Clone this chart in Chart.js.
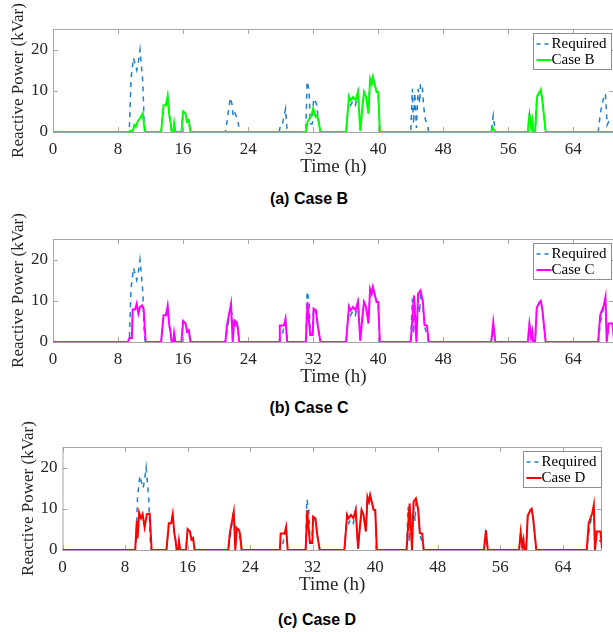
<!DOCTYPE html>
<html>
<head>
<meta charset="utf-8">
<script src="https://cdn.jsdelivr.net/npm/chart.js@4.4.1/dist/chart.umd.min.js"></script>
<style>
  body { margin: 0; background: #fff; width: 613px; height: 632px; overflow: hidden; position: relative; }
  .panel { position: absolute; left: 0; height: 180px; }
  .cap { position: absolute; width: 200px; text-align: center; font: bold 16px "Liberation Sans", Arial, sans-serif; color: #000; }
</style>
</head>
<body>
<div class="panel" style="top:0;width:614px"><canvas id="chartB"></canvas></div>
<div class="cap" style="left:209px;top:190px">(a) Case B</div>
<div class="panel" style="top:210px;width:614px"><canvas id="chartC"></canvas></div>
<div class="cap" style="left:209px;top:399px">(b) Case C</div>
<div class="panel" style="top:418px;width:602px"><canvas id="chartD"></canvas></div>
<div class="cap" style="left:217px;top:611px">(c) Case D</div>
<script>
// [hour, kVar] points
const required = [[0,0],[9.2,0],[9.4,1],[9.6,13],[9.9,18],[10.1,16.5],[10.3,15],[10.5,17],[10.7,20],[10.9,15.5],[11.05,12],[11.2,3],[11.35,0],
  [13.3,0],[13.6,6.5],[13.9,6.5],[14.1,8.7],[14.3,4.1],[14.45,2.5],[14.6,0],[14.8,0],[14.9,2.1],[15.05,0],[15.8,0],[16.0,5],[16.3,4.5],[16.5,2.5],[16.7,2.9],[16.9,0],
  [21.2,0],[21.4,2.5],[21.6,5.3],[21.8,8.3],[22.0,6.9],[22.15,4.1],[22.3,5],[22.6,3.5],[22.8,2],[22.95,0],
  [27.8,0],[28.0,1.7],[28.2,1.7],[28.5,4.5],[28.6,5.6],[28.8,0],
  [31.1,0],[31.25,12.3],[31.5,10],[31.65,2],[31.9,2],[32.05,8.1],[32.4,6.9],[32.6,3.7],[32.9,0],
  [36.05,0],[36.4,8.5],[36.6,6.5],[36.9,7.5],[37.2,6.5],[37.5,9.7],[37.8,0.3],[38.0,4.9],[38.25,9.7],[38.5,8.5],[38.8,4.5],[39.0,12.9],[39.2,11.7],[39.35,13.3],[39.6,11.3],[39.8,9.7],[40.0,9.7],[40.2,0],
  [44.0,0],[44.2,10.5],[44.35,2],[44.5,9.5],[44.7,1],[44.9,10.5],[45.1,7],[45.2,11.5],[45.4,11.7],[45.6,6],[45.8,3],[46.1,1.5],[46.2,0],
  [53.9,0],[54.15,4],[54.4,0],
  [58.4,0],[58.6,4.3],[58.8,0.9],[58.95,2.5],[59.05,0.2],[59.3,0],[59.5,8.3],[59.85,9.7],[60.0,10],[60.2,7.7],[60.6,0],
  [67.05,0],[67.3,4.1],[67.5,6.5],[67.75,8.5],[67.95,9.3],[68.15,1.7],[68.35,2.5],[68.75,2.2],[69,2]]

const caseB = [[0,0],[9.3,0],[9.5,0.3],[9.8,0.2],[10.0,1.7],[10.2,1.3],[10.4,2.5],[10.7,3.3],[11.03,4.5],[11.3,0],
  [13.3,0],[13.6,6.5],[13.9,6.5],[14.1,8.7],[14.3,4.1],[14.45,2.5],[14.6,0],[14.8,0],[14.9,2.1],[15.05,0],[15.8,0],[16.0,5],[16.3,4.5],[16.5,2.5],[16.7,2.9],[16.9,0],
  [31.1,0],[31.3,2.5],[31.8,4],[32.0,5.7],[32.3,3.7],[32.5,4.1],[32.9,0],
  [36.05,0],[36.4,8.5],[36.6,7.7],[36.9,8.5],[37.2,7.7],[37.5,9.7],[37.8,0.3],[38.0,4.9],[38.25,9.7],[38.5,8.5],[38.8,4.5],[39.0,12.9],[39.2,11.7],[39.35,13.3],[39.6,11.3],[39.8,9.7],[40.0,9.7],[40.2,0],
  [53.9,0],[54.1,1],[54.4,0],
  [58.4,0],[58.6,4.5],[58.8,0.9],[58.95,2.8],[59.1,0],[59.3,0],[59.55,8.7],[59.85,9.7],[60.0,10.3],[60.2,7.5],[60.6,0],
  [69,0]]

const caseC = [[0,0],[9.2,0],[9.4,1],[9.7,1],[9.8,7.9],[10.1,7.9],[10.3,9.3],[10.5,6.9],[10.7,8.5],[10.95,8.9],[11.15,8],[11.4,0],
  [13.3,0],[13.6,6.5],[13.9,6.5],[14.1,8.7],[14.3,4.1],[14.45,2.5],[14.6,0],[14.8,0],[14.9,2.1],[15.05,0],[15.8,0],[16.0,5.1],[16.3,4.5],[16.5,2.5],[16.7,2.9],[16.9,0],
  [21.2,0],[21.4,4.1],[21.9,9.3],[22.1,0],[22.3,5.3],[22.6,4.8],[22.75,3.3],[22.9,0],
  [27.8,0],[27.9,4],[28.4,4],[28.6,5.6],[28.8,0],
  [31.1,0],[31.3,9.7],[31.45,5.7],[31.65,1.7],[31.95,1.7],[32.05,8.1],[32.35,7.7],[32.55,4.1],[32.9,0],
  [36.05,0],[36.4,8.5],[36.6,7.7],[36.9,8.5],[37.2,7.7],[37.5,9.7],[37.8,0.3],[38.0,4.9],[38.25,9.7],[38.5,8.5],[38.8,4.5],[39.0,12.9],[39.2,11.7],[39.35,13.3],[39.6,11.3],[39.8,9.7],[40.0,9.7],[40.2,0],
  [44.0,0],[44.4,11.3],[44.7,0],[44.9,11.7],[45.2,12.5],[45.5,9.7],[45.7,4.1],[46.0,4],[46.2,0],
  [53.9,0],[54.15,4.8],[54.4,0],
  [58.4,0],[58.6,4.3],[58.8,1],[58.95,2.5],[59.05,0.2],[59.3,0],[59.5,8.3],[59.85,9.7],[60.0,10],[60.2,7.7],[60.6,0],
  [67.05,0],[67.3,6.5],[67.75,8.9],[67.95,10.9],[68.1,0],[68.35,4.5],[68.8,4.5],[69,0.5]]

const caseD = [[0,0],[9.3,0],[9.5,7.1],[9.6,2.8],[9.8,9.1],[10.05,7.7],[10.25,8.7],[10.5,5.5],[10.8,8.7],[11.15,8.8],[11.4,0],
  [13.3,0],[13.6,6.5],[13.9,6.5],[14.1,8.7],[14.3,4.1],[14.45,2.5],[14.6,0],[14.8,0],[14.9,2.1],[15.05,0],[15.8,0],[16.0,5.1],[16.3,4.5],[16.5,2.5],[16.7,2.9],[16.9,0],
  [21.2,0],[21.4,4.1],[21.9,9.3],[22.1,0],[22.3,5.3],[22.6,4.8],[22.75,3.3],[22.9,0],
  [27.8,0],[27.9,4],[28.4,4],[28.6,5.6],[28.8,0],
  [31.1,0],[31.3,9.7],[31.45,5.7],[31.65,1.7],[31.95,1.7],[32.05,8.1],[32.35,7.7],[32.55,4.1],[32.9,0],
  [36.05,0],[36.4,8.5],[36.6,7.7],[36.9,8.5],[37.2,7.7],[37.5,9.7],[37.8,0.3],[38.0,4.9],[38.25,9.7],[38.5,8.5],[38.8,4.5],[39.0,12.9],[39.2,11.7],[39.35,13.3],[39.6,11.3],[39.8,9.7],[40.0,9.7],[40.2,0],
  [44.0,0],[44.4,11.3],[44.7,0],[44.9,11.7],[45.2,12.5],[45.5,9.7],[45.7,4.1],[46.0,4],[46.2,0],
  [53.9,0],[54.15,4.8],[54.4,0],
  [58.4,0],[58.6,4.3],[58.8,1],[58.95,2.5],[59.05,0.2],[59.3,0],[59.5,8.3],[59.85,9.7],[60.0,10],[60.2,7.7],[60.6,0],
  [67.05,0],[67.3,6.5],[67.75,8.9],[67.95,10.9],[68.1,0],[68.35,4.5],[68.8,4.5],[69,0.5]]

const hourTicks = [0, 8, 16, 24, 32, 40, 48, 56, 64]
const powerTicks = [0, 10, 20]

Chart.defaults.font.family = '"Liberation Serif", "Times New Roman", serif'
Chart.defaults.color = '#262626'

// grey axes box with inward tick marks, like matlab
const frame = {
  id: 'frame',
  beforeDatasetsDraw(chart) {
    const {ctx, chartArea: a, scales: {x, y}} = chart
    ctx.save()
    ctx.strokeStyle = '#a6a6a6'
    ctx.lineWidth = 1
    ctx.strokeRect(a.left + 0.5, a.top + 0.5, a.right - a.left - 1, a.bottom - a.top)
    ctx.beginPath()
    x.ticks.forEach(t => {
      const px = Math.round(x.getPixelForValue(t.value)) + 0.5
      ctx.moveTo(px, a.top); ctx.lineTo(px, a.top + 5)
      ctx.moveTo(px, a.bottom); ctx.lineTo(px, a.bottom - 5)
    })
    y.ticks.forEach(t => {
      const py = Math.round(y.getPixelForValue(t.value)) + 0.5
      ctx.moveTo(a.left, py); ctx.lineTo(a.left + 5, py)
      ctx.moveTo(a.right, py); ctx.lineTo(a.right - 5, py)
    })
    ctx.stroke()
    ctx.restore()
  }
}

const boxLegend = {
  id: 'boxLegend',
  afterDatasetsDraw(chart, args, opts) {
    const {ctx, chartArea: a} = chart
    const x0 = Math.round(a.right - opts.offset) + 0.5
    const y0 = a.top + 4.5
    ctx.save()
    ctx.fillStyle = '#fff'
    ctx.fillRect(x0, y0, 78, 36)
    ctx.strokeStyle = '#8c8c8c'
    ctx.lineWidth = 1
    ctx.strokeRect(x0, y0, 78, 36)
    ctx.font = '15px "Liberation Serif"'
    ctx.textBaseline = 'middle'
    chart.data.datasets.forEach((ds, i) => {
      const ry = y0 + 10.5 + i * 16
      ctx.strokeStyle = ds.borderColor
      ctx.lineWidth = ds.borderWidth
      ctx.setLineDash(ds.borderDash ? [4, 4] : [])
      ctx.beginPath()
      ctx.moveTo(x0 + 3, ry); ctx.lineTo(x0 + 18, ry)
      ctx.stroke()
      ctx.setLineDash([])
      ctx.fillStyle = '#000'
      ctx.fillText(ds.label, x0 + 18, ry)
    })
    ctx.restore()
  }
}

function makeChart(id, label, values, color, yWidth, titlePad, legendOffset) {
  return new Chart(document.getElementById(id), {
    type: 'line',
    data: {
      datasets: [
        { label: 'Required', data: required, borderColor: '#1f7fd0', borderWidth: 1.5, borderDash: [5, 5], order: 1 },
        { label: label, data: values, borderColor: color, borderWidth: 2, order: 0 }
      ]
    },
    options: {
      responsive: true,
      maintainAspectRatio: false,
      animation: false,
      layout: { padding: { top: 29, left: 0, right: 0, bottom: 0 } },
      elements: { point: { radius: 0 }, line: { tension: 0 } },
      plugins: { legend: { display: false }, tooltip: { enabled: false }, boxLegend: { offset: legendOffset } },
      scales: {
        x: {
          type: 'linear', min: 0, max: 69,
          afterBuildTicks: s => { s.ticks = hourTicks.map(v => ({ value: v })) },
          afterFit: s => { s.height = 48 },
          grid: { display: false, drawTicks: false },
          border: { display: false },
          ticks: { font: { size: 17 }, padding: 7, maxRotation: 0, autoSkip: false },
          title: { display: true, text: 'Time (h)', font: { size: 19 }, padding: { top: 0, bottom: 2 } }
        },
        y: {
          min: 0, max: 25,
          afterBuildTicks: s => { s.ticks = powerTicks.map(v => ({ value: v })) },
          afterFit: s => { s.width = yWidth },
          grid: { display: false, drawTicks: false },
          border: { display: false },
          ticks: { font: { size: 17 }, padding: 5 },
          title: { display: true, text: 'Reactive Power (kVar)', font: { size: 17 }, padding: { top: titlePad, bottom: 0 } }
        }
      }
    },
    plugins: [frame, boxLegend]
  })
}

makeChart('chartB', 'Case B', caseB, '#00ff00', 53, 8, 81)
makeChart('chartC', 'Case C', caseC, '#ff00ff', 53, 8, 81)
makeChart('chartD', 'Case D', caseD, '#ff0000', 62.5, 18, 79.5)
</script>
</body>
</html>
